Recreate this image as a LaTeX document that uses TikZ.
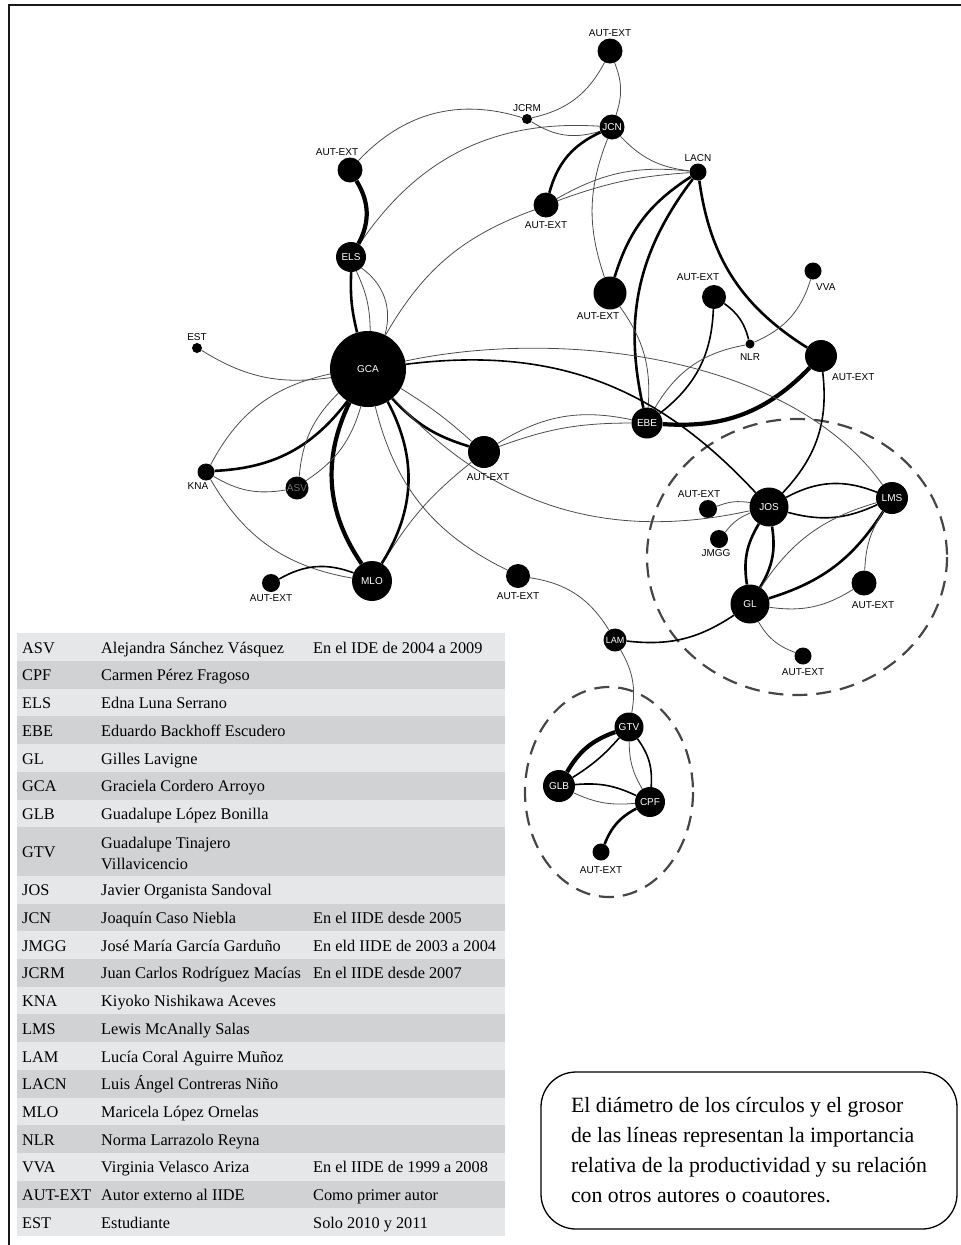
\documentclass[tikz,border=0pt]{standalone}
\usepackage{fontspec}
\setmainfont{Liberation Serif}
\newfontfamily\tagfamily{Liberation Sans}
\newcommand\tagfont{\tagfamily\fontsize{10}{11}\selectfont}
\newcommand\tablefont{\fontsize{16.3}{20}\selectfont}
\newcommand\notefont{\fontsize{21.8}{30}\selectfont}
\definecolor{rowlight}{RGB}{230,231,232}
\definecolor{rowdark}{RGB}{209,210,212}
\definecolor{dashgray}{RGB}{70,70,70}

\begin{document}
\begin{tikzpicture}[
        x=1pt, y=-1pt,
        author/.style={circle, fill=black, inner sep=0pt, text=white, font=\tagfont},
        tag/.style={font=\tagfont, inner sep=1pt},
        thin edge/.style={draw, line width=0.8pt, black!70},
        mid edge/.style={draw, line width=1.6pt, black},
        thick edge/.style={draw, line width=2.6pt, black},
        heavy edge/.style={draw, line width=4.2pt, black},
        cluster/.style={draw, dashgray, line width=2.2pt, dash pattern=on 15pt off 9pt},
        cell/.style={anchor=base west, inner sep=0pt, font=\tablefont},
        notebox/.style={draw, line width=1.3pt, rounded corners=35pt, minimum width=416pt, minimum height=157pt, align=left, font=\notefont},
    ]
    \useasboundingbox (0,0) rectangle (961,1245);
    \draw[line width=2.5pt, black!90] (9,1245) -- (9,5) -- (961,5);

    % groups
    \draw[cluster] (797,557) ellipse [x radius=150, y radius=138];
    \draw[cluster] (609,792) ellipse [x radius=84, y radius=105];

	\node[author, minimum size=76] (GCA) at (368,369) {GCA};
	\node[author, minimum size=30] (ELS) at (351,257) {ELS};
	\node[author, minimum size=25] (JCN) at (612,127) {JCN};
	\node[author, minimum size=10] (JCRM) at (527,119) {};
	\node[author, minimum size=17] (LACN) at (698,172) {};
	\node[author, minimum size=31] (EBE) at (647,423) {EBE};
	\node[author, minimum size=9] (NLR) at (750,344) {};
	\node[author, minimum size=17] (VVA) at (813,271) {};
	\node[author, minimum size=39] (JOS) at (769,507) {JOS};
	\node[author, minimum size=32] (LMS) at (892,498) {LMS};
	\node[author, minimum size=39] (GL) at (750,604) {GL};
	\node[author, minimum size=18] (JMGG) at (719,539) {};
	\node[author, minimum size=23, font=\tagfamily\fontsize{9}{10}\selectfont] (LAM) at (615,640) {LAM};
	\node[author, minimum size=29] (GTV) at (629,727) {GTV};
	\node[author, minimum size=32] (GLB) at (559,786) {GLB};
	\node[author, minimum size=30] (CPF) at (650,802) {CPF};
	\node[author, minimum size=17] (KNA) at (206,472) {};
	\node[author, minimum size=23, text=black!55] (ASV) at (297,488) {ASV};
	\node[author, minimum size=40] (MLO) at (372,581) {MLO};
	\node[author, minimum size=10] (EST) at (197,348) {};
	\node[author, minimum size=25] (ext_1) at (610,51) {};
	\node[author, minimum size=25] (ext_2) at (350,170) {};
	\node[author, minimum size=25] (ext_3) at (546,205) {};
	\node[author, minimum size=33] (ext_4) at (610,293) {};
	\node[author, minimum size=24] (ext_5) at (714,297) {};
	\node[author, minimum size=32] (ext_6) at (821,356) {};
	\node[author, minimum size=32] (ext_7) at (484,452) {};
	\node[author, minimum size=18] (ext_8) at (271,583) {};
	\node[author, minimum size=24] (ext_9) at (518,576) {};
	\node[author, minimum size=18] (ext_10) at (708,509) {};
	\node[author, minimum size=25] (ext_11) at (864,583) {};
	\node[author, minimum size=17] (ext_12) at (803,656) {};
	\node[author, minimum size=17] (ext_13) at (601,852) {};

    % top of the network
	\draw[thin edge] (ext_1) to[bend left=25] (JCRM);
	\draw[thin edge] (ext_1) to[bend left=20] (JCN);
	\draw[thin edge] (ext_2) to[bend left=32] (JCRM);
	\draw[thin edge] (JCRM) to[bend right=25] (JCN);
	\draw[thin edge] (ELS) to[bend left=30] (JCN);
	\draw[thick edge] (JCN) to[bend right=25] (ext_3);
	\draw[thin edge] (JCN) to[bend right=20] (LACN);
	\draw[thin edge] (JCN) to[bend right=20] (ext_4);
	\draw[thin edge] (ext_3) to[bend left=18] (LACN);
	\draw[thin edge] (ext_3) to[bend left=8] (LACN);
	\draw[thin edge] (ext_3) to[bend right=20] (GCA);
	\draw[heavy edge] (ext_2) to[bend left=30] (ELS);
	\draw[thick edge] (ELS) to[bend right=8] (GCA);
	\draw[thin edge] (ELS) to[bend left=12] (GCA);
	\draw[thin edge] (ELS) to[bend left=35] (GCA);
    % LACN and EBE
	\draw[thick edge] (LACN) to[bend right=20] (ext_4);
	\draw[thick edge] (LACN) to[bend right=25] (EBE);
	\draw[thick edge] (LACN) to[bend right=25] (ext_6);
	\draw[thin edge] (ext_4) to[bend left=20] (EBE);
	\draw[mid edge] (ext_5) to[bend left=25] (EBE);
	\draw[mid edge] (ext_5) to[bend left=20] (NLR);
	\draw[thin edge] (NLR) to[bend right=25] (VVA);
	\draw[thin edge] (NLR) to[bend right=25] (EBE);
	\draw[heavy edge] (ext_6) to[bend left=25] (EBE);
	\draw[mid edge] (ext_6) to[bend left=25] (JOS);
    % GCA
	\draw[mid edge] (GCA) .. controls (560,345) and (660,390) .. (JOS);
	\draw[thin edge] (GCA) .. controls (560,328) and (790,355) .. (LMS);
	\draw[thick edge] (GCA) to[bend right=15] (ext_7);
	\draw[thin edge] (GCA) to[bend left=5] (ext_7);
	\draw[thin edge] (GCA) to[bend right=30] (JOS);
	\draw[thin edge] (ext_7) to[bend left=22] (EBE);
	\draw[thin edge] (ext_7) to[bend left=10] (EBE);
	\draw[thin edge] (ext_7) to[bend right=10] (MLO);
	\draw[heavy edge] (GCA) to[bend right=30] (MLO);
	\draw[thick edge] (GCA) to[bend left=30] (MLO);
	\draw[thick edge] (GCA) to[bend left=25] (KNA);
	\draw[thin edge] (GCA) to[bend right=25] (KNA);
	\draw[thin edge] (EST) to[bend right=20] (GCA);
	\draw[thin edge] (GCA) to[bend right=20] (ASV);
	\draw[thin edge] (GCA) to[bend left=20] (ASV);
	\draw[thin edge] (KNA) to[bend right=20] (ASV);
	\draw[thin edge] (KNA) to[bend right=25] (MLO);
	\draw[mid edge] (ext_8) to[bend left=25] (MLO);
	\draw[thin edge] (GCA) to[bend right=25] (ext_9);
	\draw[thin edge] (ext_9) to[bend left=25] (LAM);
    % JOS, GL and LMS
	\draw[mid edge] (LAM) to[bend right=20] (GL);
	\draw[thin edge] (LAM) to[bend left=20] (GTV);
	\draw[thick edge] (JOS) to[bend right=20] (GL);
	\draw[thick edge] (JOS) to[bend left=20] (GL);
	\draw[mid edge] (JOS) to[bend left=25] (LMS);
	\draw[mid edge] (JOS) to[bend right=20] (LMS);
	\draw[thin edge] (ext_10) to[bend left=15] (JOS);
	\draw[thin edge] (JOS) to[bend right=15] (JMGG);
	\draw[thick edge] (GL) to[bend right=20] (LMS);
	\draw[thin edge] (GL) to[bend left=20] (LMS);
	\draw[thin edge] (LMS) to[bend right=15] (ext_11);
	\draw[thin edge] (GL) to[bend right=20] (ext_11);
	\draw[thin edge] (GL) to[bend right=20] (ext_12);
    % GTV, GLB and CPF
	\draw[heavy edge] (GTV) to[bend right=20] (GLB);
	\draw[mid edge] (GTV) to[bend left=8] (GLB);
	\draw[mid edge] (GTV) to[bend left=20] (CPF);
	\draw[thin edge] (GTV) to[bend right=15] (CPF);
	\draw[mid edge] (GLB) to[bend left=15] (CPF);
	\draw[thin edge] (GLB) to[bend right=15] (CPF);
	\draw[thick edge] (CPF) to[bend right=20] (ext_13);

	\node[tag, above=1pt] (l_ext_1) at (ext_1.north) {AUT-EXT};
	\node[tag, above=1pt] (l_JCRM) at (JCRM.north) {JCRM};
	\node[tag, above=1pt, xshift=-13pt] (l_ext_2) at (ext_2.north) {AUT-EXT};
	\node[tag, above=1pt] (l_LACN) at (LACN.north) {LACN};
	\node[tag, above=3pt, xshift=-16pt] (l_ext_5) at (ext_5.north) {AUT-EXT};
	\node[tag, above=1pt] (l_EST) at (EST.north) {EST};
	\node[tag, above=1pt, xshift=-9pt] (l_ext_10) at (ext_10.north) {AUT-EXT};
	\node[tag, below=3pt] (l_ext_3) at (ext_3.south) {AUT-EXT};
	\node[tag, below=2pt, xshift=-12pt] (l_ext_4) at (ext_4.south) {AUT-EXT};
	\node[tag, below=4pt] (l_NLR) at (NLR.south) {NLR};
	\node[tag, below=1pt, xshift=-8pt] (l_KNA) at (KNA.south) {KNA};
	\node[tag, below=4pt, xshift=4pt] (l_ext_7) at (ext_7.south) {AUT-EXT};
	\node[tag, below=1pt] (l_ext_8) at (ext_8.south) {AUT-EXT};
	\node[tag, below=3pt] (l_ext_9) at (ext_9.south) {AUT-EXT};
	\node[tag, below=0pt, xshift=-3pt] (l_JMGG) at (JMGG.south) {JMGG};
	\node[tag, below=5pt, xshift=9pt] (l_ext_11) at (ext_11.south) {AUT-EXT};
	\node[tag, below=3pt] (l_ext_12) at (ext_12.south) {AUT-EXT};
	\node[tag, below=5pt] (l_ext_13) at (ext_13.south) {AUT-EXT};
	\node[tag, anchor=north west, xshift=2pt, yshift=-3pt] (l_VVA) at (VVA.south) {VVA};
	\node[tag, anchor=north west, xshift=10pt] (l_ext_6) at (ext_6.south) {AUT-EXT};

    % table of authors
	\fill[rowlight] (17,633.3) rectangle (505,661.0);
	\fill[rowdark] (17,661.0) rectangle (505,688.7);
	\fill[rowlight] (17,688.7) rectangle (505,716.4);
	\fill[rowdark] (17,716.4) rectangle (505,744.1);
	\fill[rowlight] (17,744.1) rectangle (505,771.8);
	\fill[rowdark] (17,771.8) rectangle (505,799.5);
	\fill[rowlight] (17,799.5) rectangle (505,827.2);
	\fill[rowdark] (17,827.2) rectangle (505,875.9);
	\fill[rowlight] (17,875.9) rectangle (505,903.6);
	\fill[rowdark] (17,903.6) rectangle (505,931.3);
	\fill[rowlight] (17,931.3) rectangle (505,959.0);
	\fill[rowdark] (17,959.0) rectangle (505,986.7);
	\fill[rowlight] (17,986.7) rectangle (505,1014.4);
	\fill[rowdark] (17,1014.4) rectangle (505,1042.1);
	\fill[rowlight] (17,1042.1) rectangle (505,1069.8);
	\fill[rowdark] (17,1069.8) rectangle (505,1097.5);
	\fill[rowlight] (17,1097.5) rectangle (505,1125.2);
	\fill[rowdark] (17,1125.2) rectangle (505,1152.9);
	\fill[rowlight] (17,1152.9) rectangle (505,1180.6);
	\fill[rowdark] (17,1180.6) rectangle (505,1208.3);
	\fill[rowlight] (17,1208.3) rectangle (505,1236.0);

	\node[cell] (k_ASV) at (22,653.2) {ASV};
	\node[cell] (n_ASV) at (101,653.2) {Alejandra Sánchez Vásquez};
	\node[cell] (c_ASV) at (313,653.2) {En el IDE de 2004 a 2009};
	\node[cell] (k_CPF) at (22,680.9) {CPF};
	\node[cell] (n_CPF) at (101,680.9) {Carmen Pérez Fragoso};
	\node[cell] (k_ELS) at (22,708.6) {ELS};
	\node[cell] (n_ELS) at (101,708.6) {Edna Luna Serrano};
	\node[cell] (k_EBE) at (22,736.3) {EBE};
	\node[cell] (n_EBE) at (101,736.3) {Eduardo Backhoff Escudero};
	\node[cell] (k_GL) at (22,764.0) {GL};
	\node[cell] (n_GL) at (101,764.0) {Gilles Lavigne};
	\node[cell] (k_GCA) at (22,791.7) {GCA};
	\node[cell] (n_GCA) at (101,791.7) {Graciela Cordero Arroyo};
	\node[cell] (k_GLB) at (22,819.4) {GLB};
	\node[cell] (n_GLB) at (101,819.4) {Guadalupe López Bonilla};
	\node[cell] (k_GTV) at (22,857.6) {GTV};
	\node[cell] (n_GTV) at (101,848.3) {Guadalupe Tinajero};
	\node[cell] (m_GTV) at (101,869.3) {Villavicencio};
	\node[cell] (k_JOS) at (22,895.8) {JOS};
	\node[cell] (n_JOS) at (101,895.8) {Javier Organista Sandoval};
	\node[cell] (k_JCN) at (22,923.5) {JCN};
	\node[cell] (n_JCN) at (101,923.5) {Joaquín Caso Niebla};
	\node[cell] (c_JCN) at (313,923.5) {En el IIDE desde 2005};
	\node[cell] (k_JMGG) at (22,951.2) {JMGG};
	\node[cell] (n_JMGG) at (101,951.2) {José María García Garduño};
	\node[cell] (c_JMGG) at (313,951.2) {En eld IIDE de 2003 a 2004};
	\node[cell] (k_JCRM) at (22,978.9) {JCRM};
	\node[cell] (n_JCRM) at (101,978.9) {Juan Carlos Rodríguez Macías};
	\node[cell] (c_JCRM) at (313,978.9) {En el IIDE desde 2007};
	\node[cell] (k_KNA) at (22,1006.6) {KNA};
	\node[cell] (n_KNA) at (101,1006.6) {Kiyoko Nishikawa Aceves};
	\node[cell] (k_LMS) at (22,1034.3) {LMS};
	\node[cell] (n_LMS) at (101,1034.3) {Lewis McAnally Salas};
	\node[cell] (k_LAM) at (22,1062.0) {LAM};
	\node[cell] (n_LAM) at (101,1062.0) {Lucía Coral Aguirre Muñoz};
	\node[cell] (k_LACN) at (22,1089.7) {LACN};
	\node[cell] (n_LACN) at (101,1089.7) {Luis Ángel Contreras Niño};
	\node[cell] (k_MLO) at (22,1117.4) {MLO};
	\node[cell] (n_MLO) at (101,1117.4) {Maricela López Ornelas};
	\node[cell] (k_NLR) at (22,1145.1) {NLR};
	\node[cell] (n_NLR) at (101,1145.1) {Norma Larrazolo Reyna};
	\node[cell] (k_VVA) at (22,1172.8) {VVA};
	\node[cell] (n_VVA) at (101,1172.8) {Virginia Velasco Ariza};
	\node[cell] (c_VVA) at (313,1172.8) {En el IIDE de 1999 a 2008};
	\node[cell] (k_EXT) at (22,1200.5) {AUT-EXT};
	\node[cell] (n_EXT) at (101,1200.5) {Autor externo al IIDE};
	\node[cell] (c_EXT) at (313,1200.5) {Como primer autor};
	\node[cell] (k_EST) at (22,1228.2) {EST};
	\node[cell] (n_EST) at (101,1228.2) {Estudiante};
	\node[cell] (c_EST) at (313,1228.2) {Solo 2010 y 2011};

	\node[notebox] (note) at (749,1150.5) {El diámetro de los círculos y el grosor\\
		de las líneas representan la importancia\\
		relativa de la productividad y su relación\\
		con otros autores o coautores.};
\end{tikzpicture}
\end{document}
